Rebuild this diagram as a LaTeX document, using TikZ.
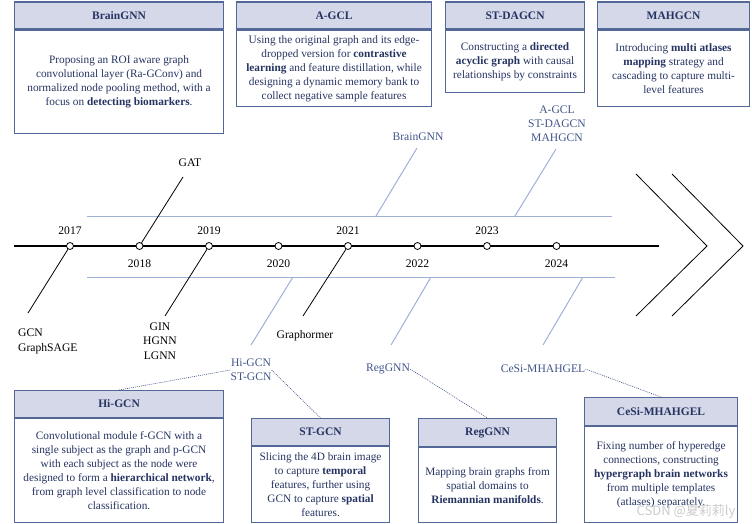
\documentclass[tikz,border=0pt]{standalone}
\usepackage{fontspec}
\setmainfont{Liberation Serif}
\newfontfamily\cjkfont{Noto Sans CJK SC}
\definecolor{boxborder}{RGB}{84,104,152}
\definecolor{headfill}{RGB}{212,216,232}
\definecolor{boxtext}{RGB}{38,52,98}
\definecolor{bluel}{RGB}{158,176,214}
\definecolor{bluelabel}{RGB}{66,86,138}
\begin{document}
\begin{tikzpicture}[x=1pt,y=-1pt,
  headbox/.style={draw=boxborder, fill=headfill, line width=1.1pt, inner sep=0pt, anchor=north west,
    font=\fontsize{11.5}{14}\selectfont\bfseries, text=boxtext},
  bodybox/.style={draw=boxborder, fill=white, line width=1.1pt, inner sep=0pt, anchor=north west,
    align=center, font=\fontsize{11.3}{14}\selectfont, text=boxtext},
  yearlbl/.style={font=\fontsize{11.6}{14}\selectfont, inner sep=0pt},
  blacklbl/.style={font=\fontsize{11.6}{14.5}\selectfont, inner sep=0pt, align=center},
  bluelbl/.style={font=\fontsize{11.6}{14}\selectfont, inner sep=0pt, align=center, text=bluelabel},
  yeardot/.style={circle, draw=black, fill=white, line width=0.8pt, minimum size=7pt, inner sep=0pt},
  blk/.style={draw=black, line width=0.8pt},
  blu/.style={draw=bluel, line width=1pt},
  dotconn/.style={draw=bluelabel, line width=0.6pt, dash pattern=on 1pt off 1pt}]
\useasboundingbox (0,0) rectangle (752,524);

% ---------- top boxes ----------
\node[headbox, minimum width=209pt, minimum height=27pt] (bgh) at (14,1.5) {BrainGNN};
\node[bodybox, minimum width=209pt, minimum height=103.5pt] (bgb) at (bgh.south west)
  {Proposing an ROI aware graph\\convolutional layer (Ra-GConv) and\\normalized node pooling method, with a\\focus on \textbf{detecting biomarkers}.};

\node[headbox, minimum width=195pt, minimum height=27pt] (agh) at (236,1.5) {A-GCL};
\node[bodybox, minimum width=195pt, minimum height=76.5pt] (agb) at (agh.south west)
  {Using the original graph and its edge-\\dropped version for \textbf{contrastive}\\\textbf{learning} and feature distillation, while\\designing a dynamic memory bank to\\collect negative sample features};

\node[headbox, minimum width=139pt, minimum height=27pt] (sdh) at (445,1.5) {ST-DAGCN};
\node[bodybox, minimum width=139pt, minimum height=62.5pt] (sdb) at (sdh.south west)
  {Constructing a \textbf{directed}\\\textbf{acyclic graph} with causal\\relationships by constraints};

\node[headbox, minimum width=152pt, minimum height=27pt] (mah) at (597,1.5) {MAHGCN};
\node[bodybox, minimum width=152pt, minimum height=76.5pt] (mab) at (mah.south west)
  {Introducing \textbf{multi atlases}\\\textbf{mapping} strategy and\\cascading to capture multi-\\level features};

% ---------- bottom boxes ----------
\node[headbox, minimum width=209pt, minimum height=27pt] (hih) at (14,390) {Hi-GCN};
\node[bodybox, minimum width=209pt, minimum height=104pt] (hib) at (hih.south west)
  {Convolutional module f-GCN with a\\single subject as the graph and p-GCN\\with each subject as the node were\\designed to form a \textbf{hierarchical network},\\from graph level classification to node\\classification.};

\node[headbox, minimum width=138pt, minimum height=27pt] (sth) at (251,418) {ST-GCN};
\node[bodybox, minimum width=138pt, minimum height=76pt] (stb) at (sth.south west)
  {Slicing the 4D brain image\\to capture \textbf{temporal}\\features, further using\\GCN to capture \textbf{spatial}\\features.};

\node[headbox, minimum width=138pt, minimum height=28pt] (rgh) at (418,418) {RegGNN};
\node[bodybox, minimum width=138pt, minimum height=75pt] (rgb) at (rgh.south west)
  {Mapping brain graphs from\\spatial domains to\\\textbf{Riemannian manifolds}.};

\node[headbox, minimum width=153pt, minimum height=28pt] (ceh) at (584,397) {CeSi-MHAHGEL};
\node[bodybox, minimum width=153pt, minimum height=96pt] (ceb) at (ceh.south west)
  {Fixing number of hyperedge\\connections, constructing\\\textbf{hypergraph brain networks}\\from multiple templates\\(atlases) separately.};

% ---------- blue guide lines ----------
\coordinate (upL) at (87,216);
\coordinate (upR) at (612,216);
\coordinate (loL) at (87,277);
\coordinate (loR) at (615,277);
\draw[blu] (upL) -- (upR);
\draw[blu] (loL) -- (loR);

\coordinate (ub1) at (376,216);  \coordinate (ub1e) at (417,148);
\coordinate (ub2) at (515,216);  \coordinate (ub2e) at (556,149);
\coordinate (lb1) at (293,277);  \coordinate (lb1e) at (251,345);
\coordinate (lb2) at (431,277);  \coordinate (lb2e) at (391,345);
\coordinate (lb3) at (583,277);  \coordinate (lb3e) at (543,345);
\draw[blu] (ub1) -- (ub1e);
\draw[blu] (ub2) -- (ub2e);
\draw[blu] (lb1) -- (lb1e);
\draw[blu] (lb2) -- (lb2e);
\draw[blu] (lb3) -- (lb3e);

% ---------- main timeline ----------
\coordinate (tlL) at (14,246);
\coordinate (tlR) at (659,246);
\draw[blk, line width=1.1pt] (tlL) -- (tlR);

\node[yeardot] (c17) at (70,246) {};
\node[yeardot] (c18) at (139.5,246) {};
\node[yeardot] (c19) at (209,246) {};
\node[yeardot] (c20) at (278.5,246) {};
\node[yeardot] (c21) at (348,246) {};
\node[yeardot] (c22) at (417.5,246) {};
\node[yeardot] (c23) at (487,246) {};
\node[yeardot] (c24) at (556.5,246) {};

\node[yearlbl] (y17) at (70,231) {2017};
\node[yearlbl] (y18) at (139.5,264) {2018};
\node[yearlbl] (y19) at (209,231) {2019};
\node[yearlbl] (y20) at (278.5,264) {2020};
\node[yearlbl] (y21) at (348,231) {2021};
\node[yearlbl] (y22) at (417.5,264) {2022};
\node[yearlbl] (y23) at (487,231) {2023};
\node[yearlbl] (y24) at (556.5,264) {2024};

% black branches
\coordinate (b17) at (28,313);
\coordinate (b18) at (183,177);
\coordinate (b19) at (165,316);
\coordinate (b21) at (303,316);
\draw[blk] (c17) -- (b17);
\draw[blk] (c18) -- (b18);
\draw[blk] (c19) -- (b19);
\draw[blk] (c21) -- (b21);

\node[blacklbl, align=left, anchor=west] (gcn) at (18,341.5) {GCN\\GraphSAGE};
\node[blacklbl] (gat) at (190,163) {GAT};
\node[blacklbl] (gin) at (160,341) {GIN\\HGNN\\LGNN};
\node[blacklbl] (grm) at (305,336) {Graphormer};

% blue labels
\node[bluelbl] (bgl) at (418,137) {BrainGNN};
\node[bluelbl] (agl) at (557,124) {A-GCL\\ST-DAGCN\\MAHGCN};
\node[bluelbl] (hil) at (251,370) {Hi-GCN\\ST-GCN};
\node[bluelbl] (rgl) at (388,369) {RegGNN};
\node[bluelbl] (cel) at (543,369) {CeSi-MHAHGEL};

% dotted connectors
\draw[dotconn] (hil.west) -- (hih.north);
\draw[dotconn] (hil.east) -- (sth.north);
\draw[dotconn] (rgl.east) -- (rgh.north);
\draw[dotconn] (cel.east) -- (ceh.north);

% chevrons
\coordinate (ch1a) at (636,174); \coordinate (ch1b) at (707,246); \coordinate (ch1c) at (636,316);
\coordinate (ch2a) at (672,174); \coordinate (ch2b) at (743,246); \coordinate (ch2c) at (672,316);
\draw[blk] (ch1a) -- (ch1b) -- (ch1c);
\draw[blk] (ch2a) -- (ch2b) -- (ch2c);

% watermark
\node[inner sep=0pt, text=black!20, font=\cjkfont\fontsize{13}{14}\selectfont] (wm) at (686,512) {CSDN @夏莉莉ly};
\end{tikzpicture}
\end{document}
